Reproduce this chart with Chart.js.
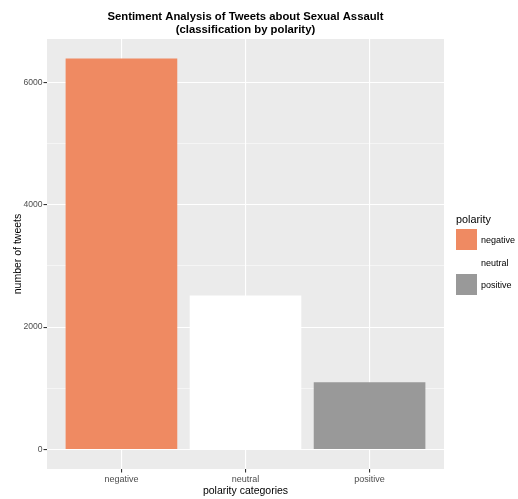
<!DOCTYPE html>
<html>
<head>
<meta charset="utf-8">
<script src="https://cdn.jsdelivr.net/npm/chart.js@4.4.1/dist/chart.umd.min.js"></script>
<style>
  html, body { margin: 0; padding: 0; background: #fff; }
  #wrap { width: 518px; height: 499px; }
</style>
</head>
<body>
<div id="wrap"><canvas id="chart"></canvas></div>
<script>
// data
const categories = ["negative", "neutral", "positive"];
const tweetCounts = [6390, 2515, 1100];
const barColors = ["#EF8A62", "#FFFFFF", "#999999"];
const yMajorTicks = [0, 2000, 4000, 6000];
const yMinorTicks = [1000, 3000, 5000];

const FONT = "'Liberation Sans', Arial, sans-serif";
const yMax = Math.max(...tweetCounts);

// grey panel behind the plot, like ggplot
const panelBg = {
  id: "panelBg",
  beforeDraw(chart) {
    const { ctx, chartArea: a } = chart;
    ctx.save();
    ctx.fillStyle = "#EBEBEB";
    ctx.fillRect(a.left, a.top, a.right - a.left, a.bottom - a.top);
    ctx.restore();
  }
};

// ggplot style legend on the right, centred on the panel
const sideLegend = {
  id: "sideLegend",
  afterDraw(chart) {
    const { ctx, chartArea: a } = chart;
    const key = 21, step = 22.5;
    const x = a.right + 12;
    const top = (a.top + a.bottom) / 2 - 41;
    ctx.save();
    ctx.textBaseline = "middle";
    ctx.textAlign = "left";
    ctx.fillStyle = "#000";
    ctx.font = "10.8px " + FONT;
    ctx.fillText("polarity", x, top + 7);
    categories.forEach((c, i) => {
      const y = top + 16 + i * step;
      ctx.fillStyle = barColors[i];
      ctx.fillRect(x, y, key, key);
      ctx.fillStyle = "#000";
      ctx.font = "9px " + FONT;
      ctx.fillText(c, x + 25, y + key / 2 + 1.5);
    });
    ctx.restore();
  }
};

const isMajor = v => yMajorTicks.includes(v);

new Chart(document.getElementById("chart"), {
  type: "bar",
  data: {
    datasets: [{
      label: "polarity",
      data: categories.map((c, i) => ({ x: i, y: tweetCounts[i] })),
      backgroundColor: barColors,
      borderWidth: 0,
      barPercentage: 0.9,
      categoryPercentage: 1.0
    }]
  },
  options: {
    responsive: true,
    maintainAspectRatio: false,
    animation: false,
    layout: { padding: { left: 12, right: 74, top: 0, bottom: 0 } },
    plugins: {
      title: {
        display: true,
        text: ["Sentiment Analysis of Tweets about Sexual Assault", "(classification by polarity)"],
        color: "#000",
        font: { family: FONT, size: 11.3, weight: "bold", lineHeight: 1.15 },
        padding: { top: 10.5, bottom: 2.5 },
        fullSize: false
      },
      legend: { display: false },
      tooltip: { enabled: false }
    },
    scales: {
      x: {
        type: "linear",
        offset: false,
        min: -0.6,
        max: 2.6,
        afterBuildTicks: s => { s.ticks = categories.map((c, i) => ({ value: i })); },
        afterFit: s => { s.height = 30; },
        ticks: {
          callback: v => categories[v],
          color: "#4D4D4D",
          font: { family: FONT, size: 9 },
          padding: 2,
          maxRotation: 0
        },
        grid: {
          offset: false,
          color: "#FFFFFF",
          lineWidth: 1.1,
          tickColor: "#333333",
          tickLength: 3.5
        },
        border: { display: false },
        title: {
          display: true,
          text: "polarity categories",
          color: "#000",
          font: { family: FONT, size: 10.5 },
          padding: { top: 0, bottom: 2 }
        }
      },
      y: {
        min: -yMax * 0.05,
        max: yMax * 1.05,
        afterBuildTicks: s => {
          s.ticks = [...yMajorTicks, ...yMinorTicks].sort((a, b) => a - b).map(v => ({ value: v }));
        },
        afterFit: s => { s.width = 35; },
        ticks: {
          callback: v => isMajor(v) ? String(v) : "",
          color: "#4D4D4D",
          font: { family: FONT, size: 8.6 },
          padding: 1
        },
        grid: {
          color: "#FFFFFF",
          lineWidth: c => isMajor(c.tick.value) ? 1.1 : 0.5,
          tickColor: c => isMajor(c.tick.value) ? "#333333" : "rgba(0,0,0,0)",
          tickLength: 3.5
        },
        border: { display: false },
        title: {
          display: true,
          text: "number of tweets",
          color: "#000",
          font: { family: FONT, size: 10.5 },
          padding: { top: 0, bottom: 0 }
        }
      }
    }
  },
  plugins: [panelBg, sideLegend]
});
</script>
</body>
</html>
